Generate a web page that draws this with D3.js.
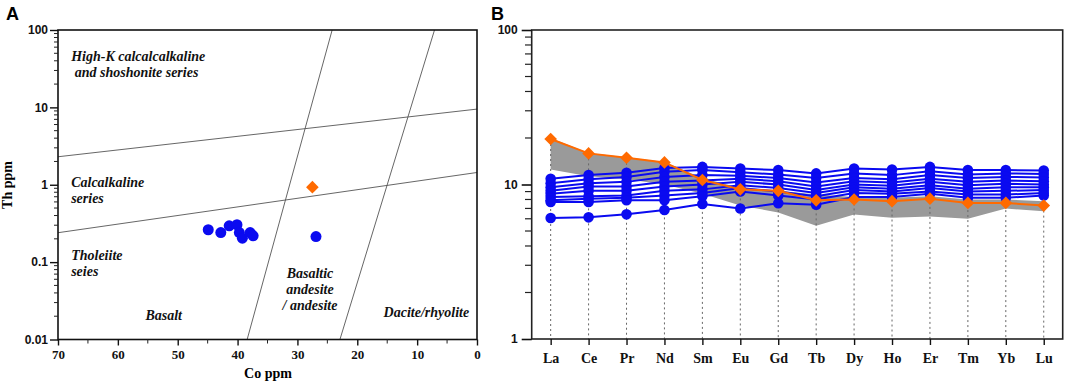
<!DOCTYPE html>
<html><head><meta charset="utf-8">
<script src="https://cdn.jsdelivr.net/npm/d3@7"></script>
<style>body{margin:0;background:#fff}svg{display:block}</style>
</head><body>
<svg id="c" width="1065" height="382"></svg>
<script>
// ---------- Panel A data ----------
const blueCo = [44.9, 42.8, 41.4, 40.1, 39.7, 39.2, 37.9, 37.4, 26.9];
const blueTh = [0.262, 0.241, 0.295, 0.304, 0.241, 0.204, 0.241, 0.219, 0.214];
const orangeCo = [27.5];
const orangeTh = [0.93];
const aXTicks = [70, 60, 50, 40, 30, 20, 10, 0];
const aYTicks = [0.01, 0.1, 1, 10, 100];
const aYTickLabels = ["0.01", "0.1", "1", "10", "100"];
// boundary lines [Co1, Th1, Co2, Th2]
const boundaryLines = [
  [70, 2.3, 0, 9.5],
  [70, 0.24, 0, 1.44],
  [38.4, 0.01, 24.2, 100],
  [22.9, 0.01, 7.1, 100]
];
const fieldLabels = [
  {t: ["High-K calcalcalkaline", " and shoshonite series"], co: 67.8, th: 40, anchor: "start"},
  {t: ["Calcalkaline", "series"], co: 67.8, th: 0.94, anchor: "start"},
  {t: ["Tholeiite", "seies"], co: 67.8, th: 0.108, anchor: "start"},
  {t: ["Basalt"], co: 55.4, th: 0.0178, anchor: "start"},
  {t: ["Basaltic", "andesite", "/ andesite"], co: 27.9, th: 0.063, anchor: "middle"},
  {t: ["Dacite/rhyolite"], co: 15.6, th: 0.0195, anchor: "start"}
];

// ---------- Panel B data ----------
const elements = ["La","Ce","Pr","Nd","Sm","Eu","Gd","Tb","Dy","Ho","Er","Tm","Yb","Lu"];
const orangeREE = [19.7, 15.9, 14.9, 13.9, 10.7, 9.3, 9.1, 7.9, 8.0, 7.8, 8.1, 7.6, 7.6, 7.3];
const bandUpper = [20, 16, 15, 14, 11, 9.5, 9.1, 8.6, 8.3, 8.2, 8.4, 8.0, 8.0, 7.8];
const bandLower = [12.5, 11.3, 10.8, 10.0, 8.7, 7.3, 6.6, 5.4, 6.4, 6.1, 6.2, 6.0, 7.0, 6.7];
const blueREE = [
  [10.9, 11.5, 11.9, 12.8, 13.0, 12.7, 12.4, 11.8, 12.7, 12.5, 13.0, 12.4, 12.4, 12.3],
  [10.2, 10.8, 11.2, 12.1, 12.4, 12.0, 11.6, 11.0, 11.8, 11.5, 12.2, 11.6, 11.8, 11.7],
  [9.6, 10.2, 10.4, 11.2, 11.5, 11.4, 11.0, 10.3, 11.0, 10.8, 11.5, 11.0, 11.2, 11.1],
  [9.1, 9.7, 9.7, 10.4, 10.6, 10.9, 10.5, 9.7, 10.5, 10.3, 10.9, 10.4, 10.6, 10.5],
  [8.7, 9.1, 9.1, 9.7, 10.0, 10.4, 10.0, 9.2, 10.0, 9.8, 10.4, 9.9, 10.1, 10.0],
  [8.3, 8.4, 8.5, 9.1, 9.3, 9.9, 9.5, 8.8, 9.6, 9.4, 9.9, 9.4, 9.6, 9.6],
  [7.9, 8.1, 8.2, 8.5, 8.8, 9.5, 9.0, 8.4, 9.2, 9.0, 9.5, 9.0, 9.1, 9.2],
  [7.7, 7.7, 7.9, 7.9, 8.4, 9.0, 8.5, 8.0, 8.8, 8.7, 9.0, 8.6, 8.6, 8.8],
  [6.07, 6.13, 6.41, 6.84, 7.47, 7.0, 7.56, 7.4, 8.3, 8.3, 8.7, 8.2, 8.2, 8.5]
];
const bYTicks = [1, 10, 100];

// ---------- styles ----------
const BLUE = "#0a0af0", ORANGE = "#ff6a00", GRAY = "#9a9a9a";
const SERIF = "'Liberation Serif','Times New Roman',serif";
const SANS = "'Liberation Sans',Arial,sans-serif";

const svg = d3.select("#c");

// ================= Panel A =================
const ax = d3.scaleLinear().domain([70, 0]).range([58, 477]);
const ay = d3.scaleLog().domain([0.01, 100]).range([339.5, 30]);
const gA = svg.append("g");

gA.append("clipPath").attr("id", "clipA").append("rect")
  .attr("x", ax(70)).attr("y", ay(100)).attr("width", ax(0) - ax(70)).attr("height", ay(0.01) - ay(100));

gA.append("g").attr("clip-path", "url(#clipA)").selectAll("line").data(boundaryLines).join("line")
  .attr("x1", d => ax(d[0])).attr("y1", d => ay(d[1]))
  .attr("x2", d => ax(d[2])).attr("y2", d => ay(d[3]))
  .attr("stroke", "#555").attr("stroke-width", 0.9);

// frame
gA.append("rect").attr("x", ax(70)).attr("y", ay(100)).attr("width", ax(0) - ax(70)).attr("height", ay(0.01) - ay(100))
  .attr("fill", "none").attr("stroke", "#111").attr("stroke-width", 1.6);

// y axis A
const aYMinor = [];
for (let e = -2; e < 2; e++) for (let k = 2; k <= 9; k++) aYMinor.push(k * Math.pow(10, e));
gA.append("g").selectAll("line").data(aYMinor).join("line")
  .attr("x1", ax(70) - 4).attr("x2", ax(70)).attr("y1", d => ay(d)).attr("y2", d => ay(d))
  .attr("stroke", "#222").attr("stroke-width", 1);
const yAxisA = d3.axisLeft(ay).tickValues(aYTicks).tickFormat((d, i) => aYTickLabels[i]).tickSize(8).tickPadding(2);
const gyA = gA.append("g").attr("transform", `translate(${ax(70)},0)`).call(yAxisA);
gyA.select(".domain").remove();
gyA.selectAll("line").attr("stroke", "#111").attr("stroke-width", 1.4);
gyA.selectAll("text").attr("font-family", SANS).attr("font-weight", "bold").attr("font-size", 12).attr("fill", "#111");

// x axis A
const aXMinor = [65, 55, 45, 35, 25, 15, 5];
gA.append("g").selectAll("line").data(aXMinor).join("line")
  .attr("x1", d => ax(d)).attr("x2", d => ax(d)).attr("y1", ay(0.01)).attr("y2", ay(0.01) + 4)
  .attr("stroke", "#222").attr("stroke-width", 1);
const xAxisA = d3.axisBottom(ax).tickValues(aXTicks).tickFormat(d3.format("d")).tickSize(6).tickPadding(4);
const gxA = gA.append("g").attr("transform", `translate(0,${ay(0.01)})`).call(xAxisA);
gxA.select(".domain").remove();
gxA.selectAll("line").attr("stroke", "#111").attr("stroke-width", 1.4);
gxA.selectAll("text").attr("font-family", SERIF).attr("font-weight", "bold").attr("font-size", 13).attr("fill", "#111");

// field labels
fieldLabels.forEach(f => {
  const t = gA.append("text").attr("x", ax(f.co)).attr("y", ay(f.th)).attr("text-anchor", f.anchor)
    .attr("font-family", SERIF).attr("font-weight", "bold").attr("font-style", "italic")
    .attr("font-size", 14).attr("fill", "#111").attr("xml:space", "preserve");
  f.t.forEach((s, i) => t.append("tspan").attr("x", ax(f.co)).attr("dy", i === 0 ? 0 : 16).text(s));
});

// points A
gA.append("g").selectAll("circle").data(blueCo).join("circle")
  .attr("cx", d => ax(d)).attr("cy", (d, i) => ay(blueTh[i])).attr("r", 5.5).attr("fill", BLUE);
gA.append("g").selectAll("path").data(orangeCo).join("path")
  .attr("d", d3.symbol(d3.symbolSquare, 80)())
  .attr("transform", (d, i) => `translate(${ax(d)},${ay(orangeTh[i])}) rotate(45)`).attr("fill", ORANGE);

// titles A
gA.append("text").attr("x", 268).attr("y", 378).attr("text-anchor", "middle")
  .attr("font-family", SERIF).attr("font-weight", "bold").attr("font-size", 14).text("Co ppm");
gA.append("text").attr("transform", "translate(12,185) rotate(-90)").attr("text-anchor", "middle")
  .attr("font-family", SERIF).attr("font-weight", "bold").attr("font-size", 14).text("Th ppm");
svg.append("text").attr("x", 6).attr("y", 20).attr("font-family", SANS).attr("font-weight", "bold")
  .attr("font-size", 18).text("A");

// ================= Panel B =================
const bx = d3.scalePoint().domain(elements).range([531.7, 1062.7]).padding(0.5);
const by = d3.scaleLog().domain([1, 100]).range([339, 30]);
const gB = svg.append("g");

// band
const band = d3.area().x((d, i) => bx(elements[i])).y0((d, i) => by(bandLower[i])).y1(d => by(d));
gB.append("path").datum(bandUpper).attr("d", band).attr("fill", GRAY);

// dotted drop lines
const tops = elements.map((e, i) => Math.max(orangeREE[i], ...blueREE.map(s => s[i])));
gB.append("g").selectAll("line").data(elements).join("line")
  .attr("x1", d => bx(d)).attr("x2", d => bx(d))
  .attr("y1", (d, i) => by(tops[i])).attr("y2", by(1))
  .attr("stroke", "#666").attr("stroke-width", 1).attr("stroke-dasharray", "2,3");

// blue series
const lineB = d3.line().x((d, i) => bx(elements[i])).y(d => by(d));
gB.append("g").selectAll("path").data(blueREE).join("path")
  .attr("d", lineB).attr("fill", "none").attr("stroke", BLUE).attr("stroke-width", 2);
blueREE.forEach(s => {
  gB.append("g").selectAll("circle").data(s).join("circle")
    .attr("cx", (d, i) => bx(elements[i])).attr("cy", d => by(d)).attr("r", 5.3).attr("fill", BLUE);
});

// orange series
gB.append("path").datum(orangeREE).attr("d", lineB).attr("fill", "none").attr("stroke", ORANGE).attr("stroke-width", 2);
gB.append("g").selectAll("path").data(orangeREE).join("path")
  .attr("d", d3.symbol(d3.symbolSquare, 80)())
  .attr("transform", (d, i) => `translate(${bx(elements[i])},${by(d)}) rotate(45)`).attr("fill", ORANGE);

// frame
gB.append("rect").attr("x", 531.7).attr("y", by(100)).attr("width", 1062.7 - 531.7).attr("height", by(1) - by(100))
  .attr("fill", "none").attr("stroke", "#222").attr("stroke-width", 1.6);

// y axis B
const bYMinor = [];
for (let e = 0; e < 2; e++) for (let k = 2; k <= 9; k++) bYMinor.push(k * Math.pow(10, e));
gB.append("g").selectAll("line").data(bYMinor).join("line")
  .attr("x1", 525).attr("x2", 531.7).attr("y1", d => by(d)).attr("y2", d => by(d))
  .attr("stroke", "#222").attr("stroke-width", 1.2);
const yAxisB = d3.axisLeft(by).tickValues(bYTicks).tickFormat(d3.format("d")).tickSize(10).tickPadding(4);
const gyB = gB.append("g").attr("transform", "translate(531.7,0)").call(yAxisB);
gyB.select(".domain").remove();
gyB.selectAll("line").attr("stroke", "#111").attr("stroke-width", 1.6);
gyB.selectAll("text").attr("font-family", SANS).attr("font-weight", "bold").attr("font-size", 12).attr("fill", "#111");

// x axis B
const xAxisB = d3.axisBottom(bx).tickSize(6).tickPadding(8);
const gxB = gB.append("g").attr("transform", `translate(0,${by(1)})`).call(xAxisB);
gxB.select(".domain").remove();
gxB.selectAll("line").attr("stroke", "#111").attr("stroke-width", 1.4);
gxB.selectAll("text").attr("font-family", SERIF).attr("font-weight", "bold").attr("font-size", 14).attr("fill", "#111");

svg.append("text").attr("x", 491).attr("y", 20).attr("font-family", SANS).attr("font-weight", "bold")
  .attr("font-size", 18).text("B");
</script>
</body></html>
